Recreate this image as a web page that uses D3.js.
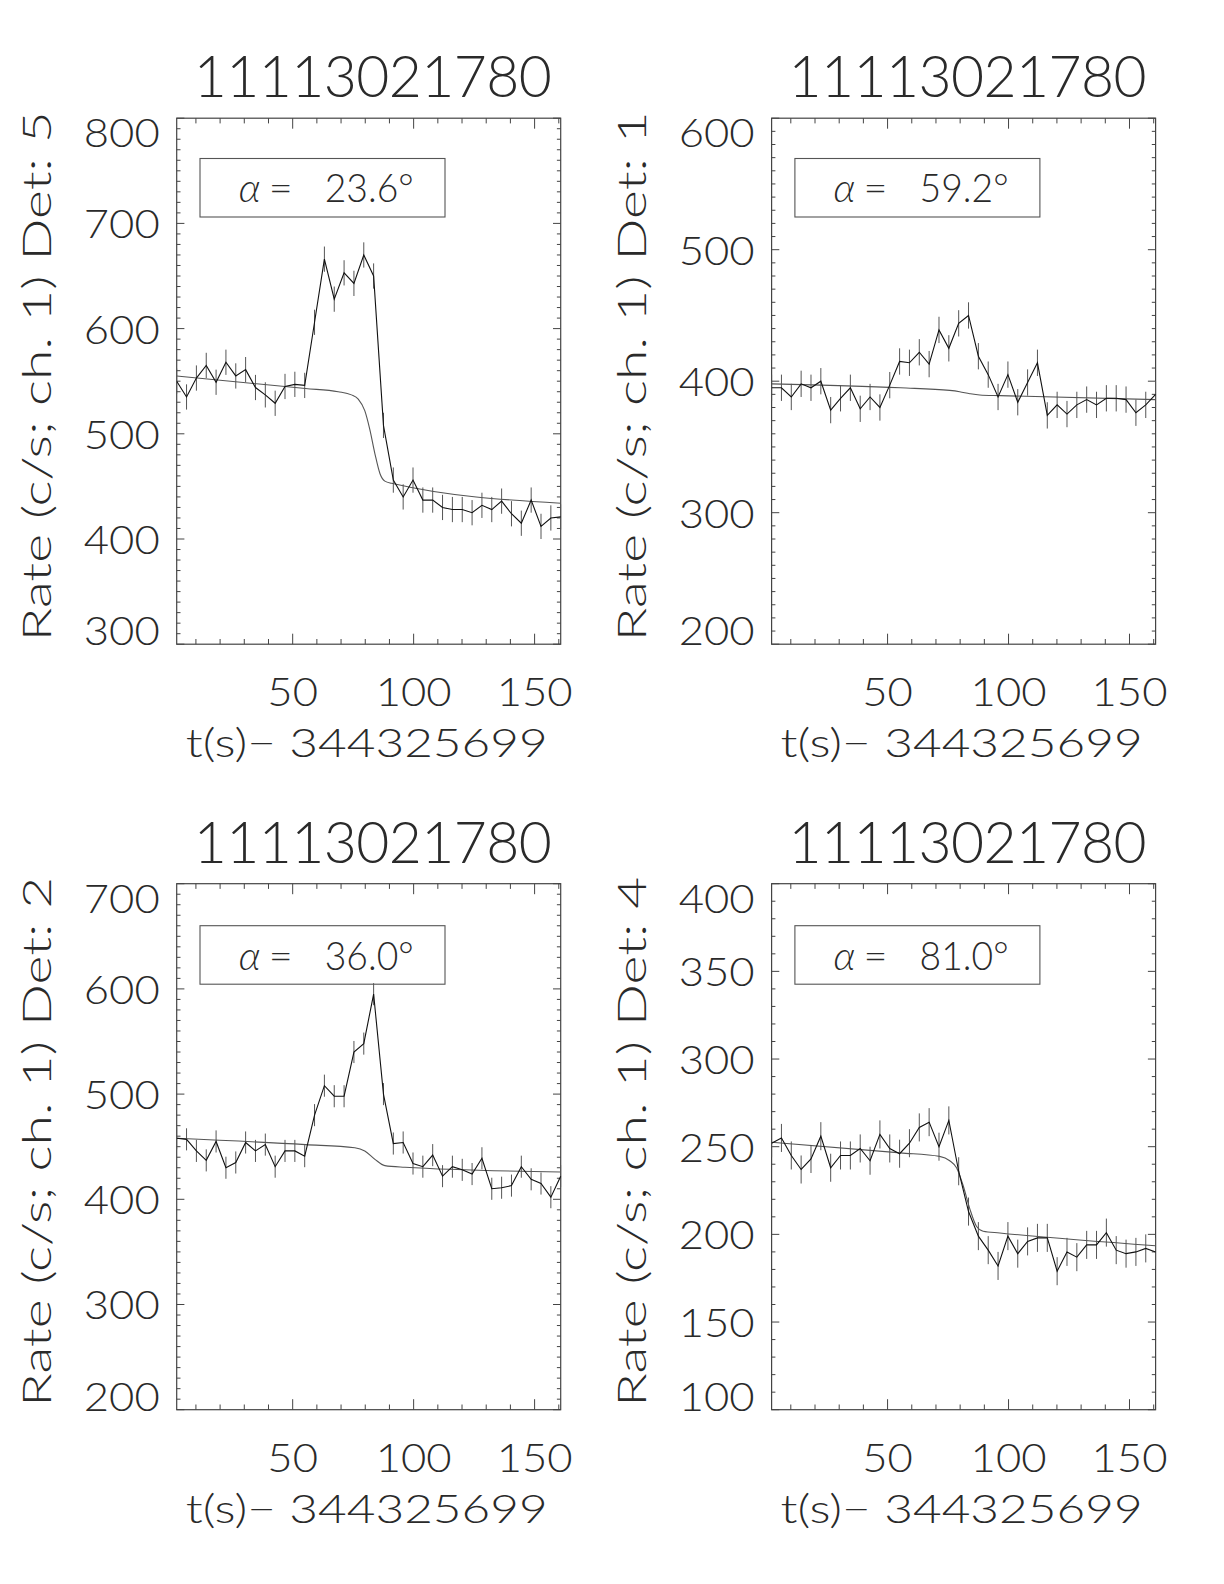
<!DOCTYPE html>
<html><head><meta charset="utf-8">
<script src="https://cdn.jsdelivr.net/npm/d3@7"></script>
<style>body{margin:0;background:#fff}</style>
</head><body>
<svg id="c" width="1224" height="1584" xmlns="http://www.w3.org/2000/svg"></svg>
<script>
// ---- data ----
const times = [2.06, 6.13, 10.2, 14.27, 18.34, 22.41, 26.48, 30.55, 34.62, 38.69,
  42.76, 46.83, 50.9, 54.97, 59.04, 63.11, 67.18, 71.25, 75.32, 79.39,
  83.46, 87.53, 91.6, 95.67, 99.74, 103.81, 107.88, 111.95, 116.02, 120.09,
  124.16, 128.23, 132.3, 136.37, 140.44, 144.51, 148.58, 152.65, 156.72, 160.79];

const rateDet5 = [550, 535, 553, 565, 549, 568, 555, 561, 544, 537, 529, 545, 547, 546, 606, 666, 628, 653, 643, 670,
  650, 508, 456, 440, 456, 437, 437, 430, 428, 428, 425, 432, 428, 436, 424, 415, 437, 412, 420, 421];
const rateDet1 = [395, 395, 388, 398, 395, 400, 378, 387, 395, 379, 388, 380, 397, 415, 414, 422, 413, 439, 425, 444,
  450, 419, 405, 388, 405, 384, 399, 414, 374, 382, 375, 382, 386, 382, 387, 387, 386, 376, 382, 390];
const rateDet2 = [458, 457, 446, 437, 455, 430, 435, 454, 446, 452, 431, 446, 446, 441, 480, 508, 498, 498, 540, 548,
  595, 500, 453, 454, 434, 431, 442, 422, 431, 428, 424, 439, 410, 411, 413, 431, 419, 415, 402, 422];
const rateDet4 = [252, 255, 245, 237, 243, 256, 238, 245, 245, 249, 242, 257, 249, 246, 252, 261, 264, 250, 265, 236,
  213, 199, 191, 182, 199, 189, 196, 198, 198, 179, 190, 187, 194, 194, 201, 191, 189, 190, 192, 190];

// model (fit) curves: [t, rate]
const modelDet5 = [[2.06,555],[55.3,543],[68.8,540],[74.3,537],[77.1,533],[79.8,522],[81.9,504],[84.0,481],[86.1,462],[88.1,455],[90.9,453],[160.8,434]];
const modelDet1 = [[2.06,398],[55.3,395],[75.7,393],[79.8,392],[84.0,390.5],[88.1,389.5],[96.4,389],[160.8,386]];
const modelDet2 = [[2.06,458],[55.3,452],[75.7,449],[79.8,446],[84.0,438],[88.1,432],[96.4,430.5],[160.8,426]];
const modelDet4 = [[2.06,252.5],[55.3,246.5],[71.5,244.5],[75.7,242],[78.5,238],[81.2,228],[84.0,214.5],[86.8,204.5],[89.5,201.8],[96.4,200.8],[160.8,193.5]];

const panelTitles = ["11113021780", "11113021780", "11113021780", "11113021780"];
const detectors = ["5", "1", "2", "4"];
const alphaValues = ["23.6", "59.2", "36.0", "81.0"];
const yDomains = [[300, 800], [200, 600], [200, 700], [100, 400]];
const yMajorSteps = [100, 100, 100, 50];
const errHalf = [12, 10, 10.5, 8];
const xTickLabels = [50, 100, 150];
const xMinorTicks = [10, 20, 30, 40, 50, 60, 70, 80, 90, 100, 110, 120, 130, 140, 150, 160];
const xTitle = "t(s)\u2212 344325699";
const xDomain = [2.06, 160.79];

const rates = [rateDet5, rateDet1, rateDet2, rateDet4];
const models = [modelDet5, modelDet1, modelDet2, modelDet4];

// ---- layout ----
const FONT = "Lato, 'DejaVu Sans', sans-serif";
const FW = 300;
const TXT = "#2a2a2a";
const AX = "#444";
const W = 384, H = 526;
const origins = [[176.7, 118.2], [771.6, 118.2], [176.7, 883.7], [771.6, 883.7]];

const svg = d3.select("#c");
svg.append("rect").attr("width", 1224).attr("height", 1584).attr("fill", "#fff");

function txt(g) {
  return g.append("text").attr("font-family", FONT).attr("font-weight", FW).attr("fill", TXT);
}

origins.forEach(([ox, oy], p) => {
  const g = svg.append("g").attr("transform", `translate(${ox},${oy})`);
  const x = d3.scaleLinear().domain(xDomain).range([0, W]);
  const y = d3.scaleLinear().domain(yDomains[p]).range([H, 0]);

  const clipId = "clip" + p;
  g.append("clipPath").attr("id", clipId).append("rect")
    .attr("x", 0).attr("y", -2).attr("width", W + 1).attr("height", H + 4);

  // frame
  g.append("rect").attr("x", 0).attr("y", 0).attr("width", W).attr("height", H)
    .attr("fill", "none").attr("stroke", AX).attr("stroke-width", 1.2);

  // x ticks (bottom & top, inward)
  const xMaj = 10.5, xMin = 5.2;
  xMinorTicks.forEach(t => {
    const len = xTickLabels.includes(t) ? xMaj : xMin;
    const xx = x(t);
    g.append("line").attr("x1", xx).attr("x2", xx).attr("y1", H).attr("y2", H - len)
      .attr("stroke", AX).attr("stroke-width", 1);
    g.append("line").attr("x1", xx).attr("x2", xx).attr("y1", 0).attr("y2", len)
      .attr("stroke", AX).attr("stroke-width", 1);
  });

  // y ticks (left & right)
  const [y0, y1] = yDomains[p];
  const yMaj = 7.7, yMin = 3.8;
  for (let v = y0; v <= y1 + 1e-9; v += 10) {
    const major = Math.abs((v - y0) % yMajorSteps[p]) < 1e-9;
    const len = major ? yMaj : yMin;
    const yy = y(v);
    g.append("line").attr("x1", 0).attr("x2", len).attr("y1", yy).attr("y2", yy)
      .attr("stroke", AX).attr("stroke-width", 1);
    g.append("line").attr("x1", W).attr("x2", W - len).attr("y1", yy).attr("y2", yy)
      .attr("stroke", AX).attr("stroke-width", 1);
  }

  // y tick labels
  const yTicks = d3.range(y0, y1 + 1e-9, yMajorSteps[p]);
  yTicks.forEach(v => {
    let base = y(v) + 15;
    base = Math.max(29, Math.min(H + 1, base));
    txt(g).attr("x", -17).attr("y", base)
      .attr("text-anchor", "end").attr("font-size", 40)
      .attr("textLength", String(v).length * 25.3).attr("lengthAdjust", "spacingAndGlyphs").text(v);
  });

  // x tick labels
  xTickLabels.forEach(t => {
    txt(g).attr("x", x(t)).attr("y", H + 62)
      .attr("text-anchor", "middle").attr("font-size", 40)
      .attr("textLength", String(t).length * 25.3).attr("lengthAdjust", "spacingAndGlyphs").text(t);
  });

  // x title
  txt(g).attr("x", W / 2 - 2).attr("y", H + 113)
    .attr("text-anchor", "middle").attr("font-size", 40)
    .attr("textLength", 362).attr("lengthAdjust", "spacingAndGlyphs").text(xTitle);

  // panel title
  txt(g).attr("x", W / 2 + 4).attr("y", -21)
    .attr("text-anchor", "middle").attr("font-size", 57)
    .attr("textLength", 358).attr("lengthAdjust", "spacing").text(panelTitles[p]);

  // y title (rotated)
  txt(g).attr("transform", `translate(${-125.5},${H / 2 - 5}) rotate(-90)`)
    .attr("text-anchor", "middle").attr("font-size", 40)
    .attr("textLength", 530).attr("lengthAdjust", "spacingAndGlyphs")
    .text(`Rate (c/s; ch. 1) Det: ${detectors[p]}`);

  const plot = g.append("g").attr("clip-path", `url(#${clipId})`);

  // model curve
  plot.append("path").datum(models[p])
    .attr("d", d3.line().x(d => x(d[0])).y(d => y(d[1])).curve(d3.curveMonotoneX))
    .attr("fill", "none").attr("stroke", "#555").attr("stroke-width", 1.1);

  // error bars
  const pts = times.map((t, i) => ({t, r: rates[p][i]}));
  plot.selectAll("line.err").data(pts).enter().append("line")
    .attr("x1", d => x(d.t)).attr("x2", d => x(d.t))
    .attr("y1", d => y(d.r - errHalf[p])).attr("y2", d => y(d.r + errHalf[p]))
    .attr("stroke", "#555").attr("stroke-width", 1);

  // data line
  plot.append("path").datum(pts)
    .attr("d", d3.line().x(d => x(d.t)).y(d => y(d.r)))
    .attr("fill", "none").attr("stroke", "#111").attr("stroke-width", 1.1);

  // alpha box
  const top = p < 2 ? 40.3 : 42;
  g.append("rect").attr("x", 23.3).attr("y", top).attr("width", 245).attr("height", 58.5)
    .attr("fill", "none").attr("stroke", "#555").attr("stroke-width", 1.1);
  txt(g).attr("x", 62).attr("y", top + 44).attr("font-size", 40)
    .attr("font-style", "italic").text("\u03b1");
  txt(g).attr("x", 92).attr("y", top + 44).attr("font-size", 40)
    .attr("textLength", 24).attr("lengthAdjust", "spacingAndGlyphs").text("=");
  txt(g).attr("x", 148).attr("y", top + 44).attr("font-size", 40)
    .attr("textLength", 89).attr("lengthAdjust", "spacingAndGlyphs").text(`${alphaValues[p]}\u00b0`);
});
</script>
</body></html>
